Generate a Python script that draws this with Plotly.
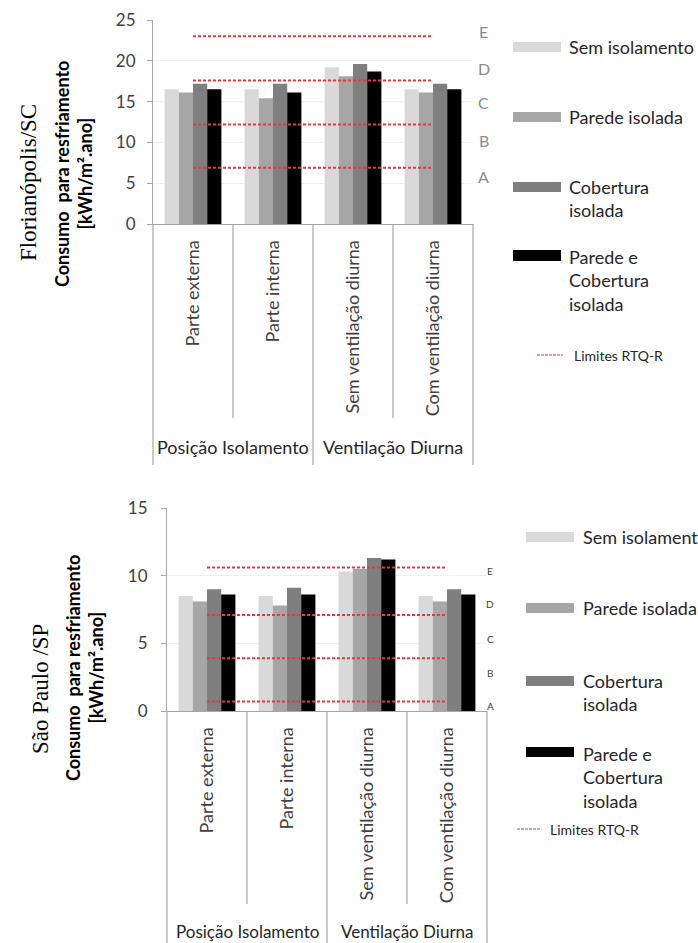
import plotly.graph_objects as go

# ---------------- data ----------------
categories = ["Parte externa", "Parte interna", "Sem ventilação diurna", "Com ventilação diurna"]
groups = ["Posição Isolamento", "Ventilação Diurna"]
series_names = ["Sem isolamento", "Parede isolada", "Cobertura isolada", "Parede e Cobertura isolada"]
legend_labels = ["Sem isolamento", "Parede isolada", "Cobertura<br>isolada", "Parede e<br>Cobertura<br>isolada"]
limit_name = "Limites RTQ-R"
class_letters = ["E", "D", "C", "B", "A"]

flo_sem = [16.5, 16.5, 19.2, 16.5]
flo_parede = [16.1, 15.4, 18.1, 16.1]
flo_cobertura = [17.2, 17.2, 19.6, 17.2]
flo_parede_cob = [16.5, 16.1, 18.7, 16.5]
flo_limits = [23.0, 17.6, 12.2, 6.9]
flo_ticks = [0, 5, 10, 15, 20, 25]

sp_sem = [8.5, 8.5, 10.3, 8.5]
sp_parede = [8.1, 7.8, 10.5, 8.1]
sp_cobertura = [9.0, 9.1, 11.3, 9.0]
sp_parede_cob = [8.6, 8.6, 11.2, 8.6]
sp_limits = [10.6, 7.1, 3.9, 0.7]
sp_ticks = [0, 5, 10, 15]

city_top = "Florianópolis/SC"
city_bottom = "São Paulo /SP"
y_title = "Consumo\u00a0 para resfriamento<br>[kWh/m².ano]"

# ---------------- style ----------------
W, H = 698, 943
bar_colors = ["#d9d9d9", "#a6a6a6", "#7f7f7f", "#000000"]
red = "#e03a3a"
axis_gray = "#a6a6a6"
txt = "#404040"
FONT = "Lato"


def px(x):
    return x / W


def py(y):
    return 1 - y / H


fig = go.Figure()

top_series = [flo_sem, flo_parede, flo_cobertura, flo_parede_cob]
bot_series = [sp_sem, sp_parede, sp_cobertura, sp_parede_cob]

for vals, name, col in zip(top_series, series_names, bar_colors):
    fig.add_trace(go.Bar(x=categories, y=vals, name=name, marker_color=col,
                         marker_line_width=0, xaxis="x", yaxis="y", showlegend=False))
for vals, name, col in zip(bot_series, series_names, bar_colors):
    fig.add_trace(go.Bar(x=categories, y=vals, name=name, marker_color=col,
                         marker_line_width=0, xaxis="x2", yaxis="y2", showlegend=False))

for v in flo_limits:
    fig.add_trace(go.Scatter(x=categories, y=[v] * len(categories), mode="lines",
                             line=dict(color=red, width=2, dash="3px,2px"),
                             name=limit_name, xaxis="x", yaxis="y", showlegend=False))
for v in sp_limits:
    fig.add_trace(go.Scatter(x=categories, y=[v] * len(categories), mode="lines",
                             line=dict(color=red, width=2, dash="3px,2px"),
                             name=limit_name, xaxis="x2", yaxis="y2", showlegend=False))

axis_common = dict(showline=True, linecolor=axis_gray, linewidth=1)

fig.update_layout(
    width=W, height=H,
    margin=dict(l=0, r=0, t=0, b=0, autoexpand=False),
    paper_bgcolor="white", plot_bgcolor="white",
    barmode="group", bargap=0.29, bargroupgap=0.0,
    font=dict(family=FONT, color=txt, size=14),
    xaxis=dict(domain=[px(153), px(473)], anchor="y", type="category",
               tickangle=-90, ticks="", tickfont=dict(size=18, color=txt),
               ticklabelstandoff=8, automargin=False, **axis_common),
    yaxis=dict(domain=[py(224), py(20)], anchor="x", range=[0, 25],
               tickvals=flo_ticks, ticks="outside", ticklen=5, tickcolor=axis_gray,
               showgrid=True, gridcolor="#f0f0f0", zeroline=False,
               tickfont=dict(size=17, color=txt), ticklabelstandoff=8,
               automargin=False, **axis_common),
    xaxis2=dict(domain=[px(167), px(487)], anchor="y2", type="category",
                tickangle=-90, ticks="", tickfont=dict(size=18, color=txt),
                ticklabelstandoff=8, automargin=False, **axis_common),
    yaxis2=dict(domain=[py(711), py(508)], anchor="x2", range=[0, 15],
                tickvals=sp_ticks, ticks="outside", ticklen=5, tickcolor=axis_gray,
                showgrid=True, gridcolor="#f0f0f0", zeroline=False,
                tickfont=dict(size=17, color=txt), ticklabelstandoff=10,
                automargin=False, **axis_common),
)

shapes = []
annotations = []


# category axis dividers (Excel multi-level axis)
def dividers(xref, y_axis_px, short_px, long_px, group_label_y, gsize):
    n = len(categories)
    for i in range(n + 1):
        frac = i / n
        is_long = i in (0, n // 2, n)
        shapes.append(dict(type="line", xref=xref + " domain", yref="paper",
                           x0=frac, x1=frac, y0=py(y_axis_px),
                           y1=py(long_px if is_long else short_px),
                           line=dict(color=axis_gray, width=1.2)))
    for gi, g in enumerate(groups):
        annotations.append(dict(text=g, xref=xref + " domain", yref="paper",
                                x=0.25 + 0.5 * gi, y=py(group_label_y), showarrow=False,
                                font=dict(size=gsize, color="#262626", family=FONT),
                                xanchor="center", yanchor="middle"))


dividers("x", 224, 418, 465, 447, 18)
dividers("x2", 711, 904, 950, 931, 17)

# class letters next to limit lines
top_letter_y = [32, 68, 103, 140, 177]
bot_letter_y = [571, 604, 639, 673, 706]
for L, yy in zip(class_letters, top_letter_y):
    annotations.append(dict(text=L, xref="paper", yref="paper", x=px(484), y=py(yy),
                            showarrow=False, font=dict(size=16, color="#8c8c8c", family=FONT),
                            xanchor="center", yanchor="middle"))
for L, yy in zip(class_letters, bot_letter_y):
    annotations.append(dict(text=L, xref="paper", yref="paper", x=px(490), y=py(yy),
                            showarrow=False, font=dict(size=10, color="#404040", family=FONT),
                            xanchor="center", yanchor="middle"))

# axis titles and city names
annotations.append(dict(text=city_top, xref="paper", yref="paper", x=px(28), y=py(183),
                        textangle=-90, showarrow=False,
                        font=dict(size=23, color="#000000", family="Liberation Serif"),
                        xanchor="center", yanchor="middle"))
annotations.append(dict(text="<b>" + y_title + "</b>", xref="paper", yref="paper",
                        x=px(73), y=py(174), textangle=-90, showarrow=False,
                        font=dict(size=18, color="#000000", family=FONT),
                        xanchor="center", yanchor="middle"))
annotations.append(dict(text=city_bottom, xref="paper", yref="paper", x=px(40), y=py(689),
                        textangle=-90, showarrow=False,
                        font=dict(size=23, color="#000000", family="Liberation Serif"),
                        xanchor="center", yanchor="middle"))
annotations.append(dict(text="<b>" + y_title + "</b>", xref="paper", yref="paper",
                        x=px(84), y=py(668), textangle=-90, showarrow=False,
                        font=dict(size=18, color="#000000", family=FONT),
                        xanchor="center", yanchor="middle"))


# custom legends (Excel style)
def legend(x_rect, rect_w, rect_ys, text_x, text_ys, line_y, line_x0, line_x1, lim_text_x):
    for col, (r0, r1) in zip(bar_colors, rect_ys):
        shapes.append(dict(type="rect", xref="paper", yref="paper",
                           x0=px(x_rect), x1=px(x_rect + rect_w), y0=py(r1), y1=py(r0),
                           fillcolor=col, line=dict(width=0)))
    for lab, ty in zip(legend_labels, text_ys):
        annotations.append(dict(text=lab, xref="paper", yref="paper", x=px(text_x), y=py(ty),
                                showarrow=False, align="left", xanchor="left", yanchor="top",
                                font=dict(size=18, color="#262626", family=FONT)))
    shapes.append(dict(type="line", xref="paper", yref="paper", x0=px(line_x0), x1=px(line_x1),
                       y0=py(line_y), y1=py(line_y),
                       line=dict(color=red, width=1.2, dash="3px,1px")))
    annotations.append(dict(text=limit_name, xref="paper", yref="paper", x=px(lim_text_x),
                            y=py(line_y), showarrow=False, xanchor="left", yanchor="middle",
                            font=dict(size=14, color="#262626", family=FONT)))


legend(513, 48, [(42, 52), (112, 122), (182, 192), (250, 261)], 567,
       [34, 104, 174, 244], 355, 537, 563, 572)
legend(526, 48, [(532, 542), (603, 613), (676, 686), (747, 757)], 581,
       [524, 595, 668, 741], 829, 517, 540, 548)

fig.update_layout(shapes=shapes, annotations=annotations)

fig.write_html(
    "out.html",
    config={"displayModeBar": False},
    post_script="document.body.style.margin='0px';document.body.style.overflow='hidden';"
                "document.documentElement.style.overflow='hidden';",
)
